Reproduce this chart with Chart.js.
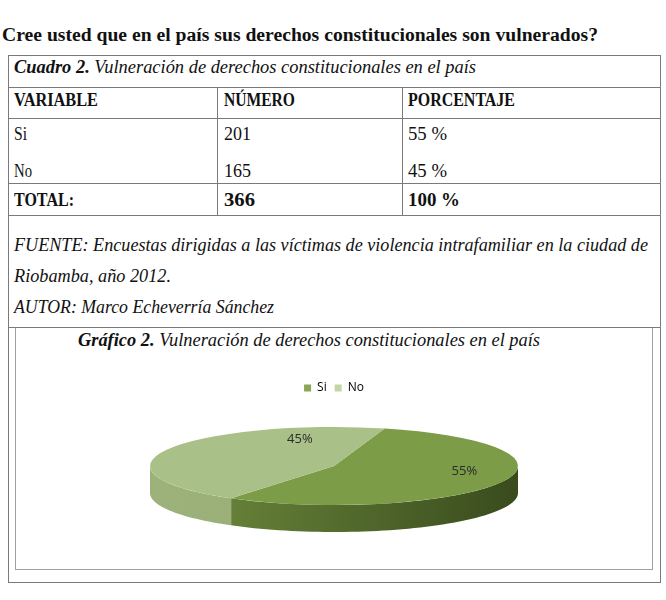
<!DOCTYPE html>
<html>
<head>
<meta charset="utf-8">
<script src="https://cdn.jsdelivr.net/npm/chart.js@4.4.0/dist/chart.umd.min.js"></script>
<style>
  body{margin:0;width:666px;height:600px;position:relative;background:#fff;overflow:hidden;font-family:"Liberation Serif",serif;color:#111;font-variant-ligatures:none;font-feature-settings:"liga" 0,"dlig" 0,"clig" 0}
  .t{position:absolute;white-space:nowrap;line-height:1;transform-origin:0 50%;font-size:18px}
  .b{font-weight:bold}
  .i{font-style:italic}
  .hl{position:absolute;height:0;border-top:1px solid #7a7a7a}
  .vl{position:absolute;width:0;border-left:1px solid #7a7a7a}
  #frame{position:absolute;left:15px;top:328px;width:638px;height:242px;border:1px solid #a0a0a0;border-top:none;box-sizing:border-box}
  #cwrap{position:absolute;left:16px;top:330px;width:636px;height:238px}
</style>
</head>
<body>
<script>
// ---- data ----
const categories = ['Si', 'No'];
const numbers = [201, 165];
const percents = [55, 45];
const totalNumber = 366;
const totalPercent = 100;
const headers = ['VARIABLE', 'NÚMERO', 'PORCENTAJE'];
</script>

<div class="t b" data-w="596" style="left:2px;top:26px">Cree usted que en el país sus derechos constitucionales son vulnerados?</div>

<!-- table lines -->
<div class="hl" style="left:8px;top:55px;width:652px"></div>
<div class="hl" style="left:8px;top:87px;width:652px"></div>
<div class="hl" style="left:8px;top:118px;width:652px"></div>
<div class="hl" style="left:8px;top:183px;width:652px"></div>
<div class="hl" style="left:8px;top:215px;width:652px"></div>
<div class="hl" style="left:8px;top:327px;width:652px"></div>
<div class="hl" style="left:8px;top:582px;width:653px"></div>
<div class="vl" style="left:8px;top:55px;height:527px"></div>
<div class="vl" style="left:660px;top:55px;height:527px"></div>
<div class="vl" style="left:217px;top:87px;height:128px"></div>
<div class="vl" style="left:402px;top:87px;height:128px"></div>
<div id="frame"></div>

<div class="t" data-w="462" style="left:14px;top:58px"><span class="b i">Cuadro 2.</span><span class="i"> Vulneración de derechos constitucionales en el país</span></div>

<div id="rows"></div>

<div class="t i" data-w="634" style="left:14px;top:236px">FUENTE: Encuestas dirigidas a las víctimas de violencia intrafamiliar en la ciudad de</div>
<div class="t i" data-w="157" style="left:14px;top:267px">Riobamba, año 2012.</div>
<div class="t i" data-w="260" style="left:14px;top:298px">AUTOR: Marco Echeverría Sánchez</div>

<div class="t" data-w="462" style="left:78px;top:331px"><span class="b i">Gráfico 2.</span><span class="i"> Vulneración de derechos constitucionales en el país</span></div>

<div id="cwrap"><canvas id="c" width="636" height="238"></canvas></div>

<script>
// build table rows from data
(function(){
  const rows = document.getElementById('rows');
  const colX = [14, 224, 408];
  function add(txt, x, y, bold, w){
    const d = document.createElement('div');
    d.className = 't' + (bold ? ' b' : '');
    d.style.left = x + 'px'; d.style.top = y + 'px';
    if (w) d.dataset.w = w;
    d.textContent = txt; rows.appendChild(d);
  }
  const hw = [84, 71, 107];
  headers.forEach((h,i)=>add(h, colX[i], 91, true, hw[i]));
  const ys = [125, 162];
  const cw = [13, 18];
  categories.forEach((c,r)=>{
    add(c, colX[0], ys[r], false, cw[r]);
    add(String(numbers[r]), colX[1], ys[r], false, 27);
    add(percents[r] + ' %', colX[2], ys[r], false, 39);
  });
  add('TOTAL:', colX[0], 191, true, 60);
  add(String(totalNumber), colX[1], 191, true, 31);
  add(totalPercent + ' %', colX[2], 191, true, 52);
})();

// fit widths of text lines
document.querySelectorAll('[data-w]').forEach(el=>{
  const w = el.getBoundingClientRect().width;
  const target = +el.dataset.w;
  if (w > 0) el.style.transform = 'scaleX(' + (target / w).toFixed(4) + ')';
});

// ---- 3D pie plugin ----
const pie3d = {
  id: 'pie3d',
  beforeDatasetsDraw(chart, args, opts){
    const ctx = chart.ctx;
    const meta = chart.getDatasetMeta(0);
    const arc0 = meta.data[0];
    const cx = arc0.x, cy = arc0.y, r = arc0.outerRadius;
    const X = opts.cx, Y = opts.cy, RX = opts.rx, RY = opts.ry, D = opts.depth;
    meta.data.forEach((arc, i) => {
      const a0 = arc.startAngle, a1 = arc.endAngle;
      const segs = [];
      for (let k = -1; k <= 1; k++) {
        const s = Math.max(a0, k * 2 * Math.PI), e = Math.min(a1, k * 2 * Math.PI + Math.PI);
        if (e > s) segs.push([s, e]);
      }
      segs.forEach(([s, e]) => {
        ctx.save();
        ctx.beginPath();
        const n = 60;
        for (let j = 0; j <= n; j++) {
          const a = s + (e - s) * j / n;
          const px = X + RX * Math.cos(a), py = Y + RY * Math.sin(a);
          if (j === 0) ctx.moveTo(px, py); else ctx.lineTo(px, py);
        }
        for (let j = n; j >= 0; j--) {
          const a = s + (e - s) * j / n;
          ctx.lineTo(X + RX * Math.cos(a), Y + RY * Math.sin(a) + D);
        }
        ctx.closePath();
        const g = ctx.createLinearGradient(X - RX, 0, X + RX, 0);
        const sc = opts.side[i];
        g.addColorStop(0, sc[0]); g.addColorStop(1, sc[1]);
        ctx.fillStyle = g;
        ctx.fill();
        ctx.restore();
      });
    });
    ctx.save();
    ctx.translate(X, Y);
    ctx.scale(RX / r, RY / r);
    ctx.translate(-cx, -cy);
  },
  afterDatasetsDraw(chart, args, opts){
    const ctx = chart.ctx;
    ctx.restore();
    const meta = chart.getDatasetMeta(0);
    const X = opts.cx, Y = opts.cy, RX = opts.rx, RY = opts.ry;
    ctx.save();
    ctx.font = '13px "Open Sans", sans-serif';
    ctx.fillStyle = '#2b2b2b';
    ctx.textAlign = 'center';
    ctx.textBaseline = 'middle';
    const vals = chart.data.datasets[0].data;
    const tot = vals.reduce((a,b)=>a+b,0);
    meta.data.forEach((arc, i) => {
      const m = (arc.startAngle + arc.endAngle) / 2 + opts.labelShift[i];
      const f = opts.labelR[i];
      const px = X + RX * f * Math.cos(m), py = Y + RY * f * Math.sin(m);
      ctx.fillText(Math.round(vals[i] / tot * 100) + '%', px, py);
    });
    ctx.restore();
  }
};

new Chart(document.getElementById('c'), {
  type: 'pie',
  data: {
    labels: categories,
    datasets: [{
      data: percents,
      backgroundColor: ['#7d9c48', '#a9c088'],
      borderWidth: 0,
      clip: false
    }]
  },
  options: {
    responsive: false,
    animation: false,
    rotation: 16,
    layout: { padding: { top: 44 } },
    plugins: {
      tooltip: { enabled: false },
      legend: {
        position: 'top',
        labels: {
          boxWidth: 7, boxHeight: 7, padding: 8,
          font: { family: '"Open Sans", sans-serif', size: 12 },
          color: '#222',
          generateLabels(chart){
            const legendCols = ['#8aa656', '#c3d5a7'];
            return chart.data.labels.map((l,i)=>({text:l, fillStyle: legendCols[i], strokeStyle: legendCols[i], lineWidth:0, index:i, hidden:false}));
          }
        }
      },
      pie3d: {
        cx: 318, cy: 136, rx: 184, ry: 39, depth: 27,
        side: [['#718e3f', '#394b1d'], ['#9cb27a', '#94aa72']],
        labelR: [0.72, 0.71],
        labelShift: [-0.26, 0.87]
      }
    }
  },
  plugins: [pie3d]
});
</script>
</body>
</html>
